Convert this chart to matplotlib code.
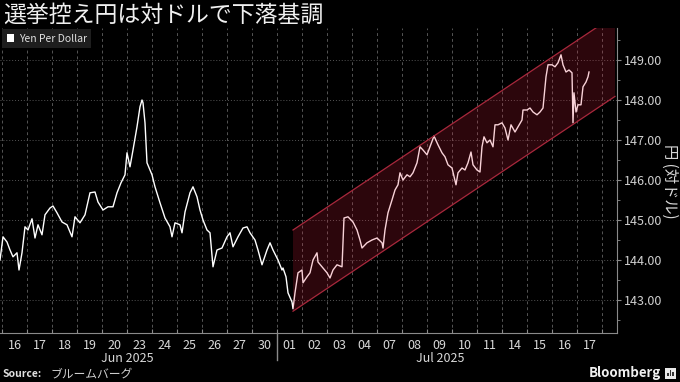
import numpy as np
import matplotlib.pyplot as plt
from matplotlib.patches import Patch, Polygon, Rectangle
from matplotlib.ticker import FixedLocator, NullFormatter, FormatStrFormatter

plt.rcParams['font.family'] = ['Noto Sans CJK JP', 'DejaVu Sans']

title = '選挙控え円は対ドルで下落基調'
ylabel = '円 (対ドル)'
series_name = 'Yen Per Dollar'
day_labels = ['16', '17', '18', '19', '20', '23', '24', '25', '26', '27', '30',
              '01', '02', '03', '04', '07', '08', '09', '10', '11', '14', '15', '16', '17']
months = ['Jun 2025', 'Jul 2025']
month_pos = [5.0, 17.52]
month_break = 11

# position in trading days from Jun 16, yen per dollar
jun_t = [-0.08, 0.04, 0.20, 0.32, 0.44, 0.60, 0.68, 0.80, 0.92, 1.04, 1.20, 1.32, 1.44,
         1.60, 1.72, 1.92, 2.04, 2.20, 2.40, 2.60, 2.80, 2.92, 3.12, 3.32, 3.52, 3.72,
         3.84, 4.04, 4.24, 4.44, 4.60, 4.76, 4.92, 5.00, 5.12, 5.24, 5.40, 5.52, 5.60,
         5.64, 5.72, 5.80, 6.00, 6.12, 6.32, 6.52, 6.72, 6.80, 6.92, 7.12, 7.20, 7.32,
         7.52, 7.64, 7.80, 7.92, 8.04, 8.20, 8.32, 8.44, 8.60, 8.80, 9.00, 9.12, 9.24,
         9.44, 9.64, 9.80, 9.92, 10.12, 10.24, 10.40, 10.60, 10.72, 10.84]
jun_yen = [144.00, 144.58, 144.45, 144.25, 144.08, 144.18, 143.75, 144.18, 144.83, 144.75,
           145.03, 144.55, 144.88, 144.63, 145.13, 145.30, 145.35, 145.18, 144.95, 144.88,
           144.58, 145.08, 144.93, 145.13, 145.68, 145.70, 145.45, 145.25, 145.33, 145.33,
           145.68, 145.93, 146.13, 146.68, 146.33, 146.75, 147.33, 147.83, 148.00, 147.93,
           147.43, 146.43, 146.13, 145.83, 145.43, 145.05, 144.83, 144.58, 144.93, 144.88,
           144.68, 145.20, 145.68, 145.83, 145.58, 145.25, 145.00, 144.75, 144.68, 143.83,
           144.25, 144.30, 144.58, 144.68, 144.33, 144.58, 144.80, 144.83, 144.68, 144.50,
           144.25, 143.88, 144.25, 144.43, 144.25]
jul_t = [11.04, 11.20, 11.24, 11.36, 11.44, 11.60, 11.64, 11.72, 11.84, 12.00, 12.04,
         12.20, 12.32, 12.44, 12.60, 12.64, 12.80, 13.00, 13.12, 13.24, 13.40, 13.60,
         13.68, 13.84, 14.04, 14.20, 14.32, 14.40, 14.60, 14.80, 15.00, 15.20, 15.24,
         15.32, 15.44, 15.60, 15.72, 15.84, 15.92, 16.04, 16.20, 16.32, 16.44, 16.60,
         16.72, 16.84, 17.00, 17.12, 17.28, 17.44, 17.60, 17.72, 17.84, 18.00, 18.16,
         18.24, 18.40, 18.52, 18.64, 18.76, 18.84, 19.00, 19.12, 19.20, 19.28, 19.40,
         19.52, 19.64, 19.72, 19.84, 20.00, 20.12, 20.24, 20.36, 20.52, 20.64, 20.80,
         20.84, 21.00, 21.12, 21.24, 21.40, 21.52, 21.64, 21.76, 21.84, 22.00, 22.12,
         22.24, 22.36, 22.44, 22.56, 22.68, 22.80, 22.84, 22.88, 22.96, 23.04, 23.16,
         23.24, 23.36, 23.44, 23.48]
jul_yen = [144.00, 143.75, 143.80, 143.58, 143.18, 142.95, 142.78, 143.18, 143.68, 143.75,
           143.43, 143.58, 143.68, 144.00, 144.18, 143.95, 143.83, 143.68, 143.55, 143.75,
           143.88, 143.83, 145.05, 145.08, 144.95, 144.75, 144.50, 144.30, 144.43, 144.50,
           144.55, 144.43, 144.30, 144.75, 145.18, 145.50, 145.75, 145.88, 146.18, 146.00,
           146.13, 146.08, 146.18, 146.43, 146.83, 146.75, 146.63, 146.83, 147.10, 146.88,
           146.68, 146.58, 146.38, 146.30, 145.88, 146.18, 146.30, 146.25, 146.43, 146.70,
           146.38, 146.25, 146.20, 146.83, 147.08, 146.93, 147.00, 146.83, 147.38, 147.38,
           147.43, 147.30, 147.00, 147.38, 147.20, 147.33, 147.50, 147.75, 147.75, 147.80,
           147.70, 147.63, 147.70, 147.80, 148.58, 148.88, 148.88, 148.83, 148.93, 149.13,
           148.88, 148.70, 148.75, 148.68, 147.43, 148.18, 147.70, 147.88, 147.88, 148.33,
           148.45, 148.58, 148.70]

# uptrend channel drawn on the chart
chan_x = [11.64, 24.52]
chan_low = [142.72, 148.09]
chan_high = [144.75, 150.12]

fig = plt.figure(figsize=(6.8, 3.82), dpi=100, facecolor='black')
ax = fig.add_axes([0, 49 / 382, 617 / 680, 305 / 382])
ax.set_facecolor('black')

ax.plot(jun_t + jul_t, jun_yen + jul_yen, color='white', lw=1.0, zorder=3)

poly = Polygon([(chan_x[0], chan_low[0]), (chan_x[0], chan_high[0]),
                (chan_x[1], chan_high[1]), (chan_x[1], chan_low[1])],
               closed=True, facecolor=(0.88, 0.12, 0.24), alpha=0.2,
               edgecolor='none', zorder=4)
ax.add_patch(poly)
ax.plot(chan_x, chan_low, color='#a8283c', lw=0.9, zorder=5)
ax.plot(chan_x, chan_high, color='#a8283c', lw=0.9, zorder=5)

ax.set_xlim(-0.08, 24.6)
ax.set_ylim(142.175, 149.8)

for s in ['left', 'top']:
    ax.spines[s].set_visible(False)
for s in ['right', 'bottom']:
    ax.spines[s].set_color('#8a8a8a')

ax.yaxis.tick_right()
ax.yaxis.set_major_locator(FixedLocator(np.arange(143, 150)))
ax.yaxis.set_minor_locator(FixedLocator(np.arange(142.5, 150, 1.0)))
ax.yaxis.set_major_formatter(FormatStrFormatter('%.2f'))
ax.tick_params(axis='y', which='major', direction='out', length=3, color='#8a8a8a',
               labelsize=9, labelcolor='#d0d0d0', pad=2)
ax.tick_params(axis='y', which='minor', direction='out', length=2, color='#8a8a8a')

ax.xaxis.set_major_locator(FixedLocator(np.arange(0, 25)))
ax.xaxis.set_major_formatter(NullFormatter())
ax.xaxis.set_minor_locator(FixedLocator(np.arange(len(day_labels)) + 0.5))
ax.xaxis.set_minor_formatter(plt.FixedFormatter(day_labels))
ax.tick_params(axis='x', which='major', direction='in', length=3, color='#8a8a8a')
ax.tick_params(axis='x', which='minor', length=0, labelsize=9, labelcolor='#d8d8d8', pad=4)

ax.grid(axis='x', which='major', color='#555555', ls=(0, (3, 3)), lw=0.7)
ax.grid(axis='y', which='major', color='#555555', ls=(0, (1, 2)), lw=0.7)
ax.set_axisbelow(True)

trans = ax.get_xaxis_transform()
ax.plot([month_break, month_break], [0, -0.09], transform=trans, clip_on=False,
        color='#8a8a8a', lw=1)
for name, pos in zip(months, month_pos):
    ax.text(pos, -0.085, name, transform=trans, ha='center', va='center',
            fontsize=9, color='#d8d8d8')

ax.legend(handles=[Patch(facecolor='white', edgecolor='none')], labels=[series_name],
          loc='upper left', bbox_to_anchor=(0.004, 0.997), fontsize=7.5, frameon=True,
          facecolor='#1e1e1e', edgecolor='none', framealpha=1, fancybox=False,
          handlelength=0.7, handleheight=0.7, handletextpad=0.4, borderpad=0.45,
          borderaxespad=0, labelcolor='#e0e0e0')

fig.text(3 / 680, 1 - 15 / 382, title, fontsize=16.5, va='center', color='#f0f0f0')
fig.text(670 / 680, 1 - 181 / 382, ylabel, rotation=270, ha='center', va='center',
         fontsize=11, color='#d8d8d8')

fig.text(3 / 680, 1 - 374 / 382, 'Source:', fontsize=7.5, weight='bold', va='center',
         color='#e0e0e0')
fig.text(50 / 680, 1 - 374 / 382, 'ブルームバーグ', fontsize=8.5, va='center',
         color='#d0d0d0')
fig.text(661 / 680, 1 - 373 / 382, 'Bloomberg', fontsize=9.5, weight='bold', ha='right',
         va='center', color='#f0f0f0')
fig.patches.append(Rectangle((665 / 680, 1 - 379 / 382), 11 / 680, 11 / 382,
                             transform=fig.transFigure, facecolor='#e8e8e8',
                             edgecolor='none'))
for i, h in enumerate([3, 6, 4]):
    fig.patches.append(Rectangle(((667 + 2.5 * i) / 680, 1 - 376 / 382), 1.5 / 680,
                                 h / 382, transform=fig.transFigure,
                                 facecolor='#333333', edgecolor='none'))

fig.savefig('out.png', dpi=100, facecolor='black')
